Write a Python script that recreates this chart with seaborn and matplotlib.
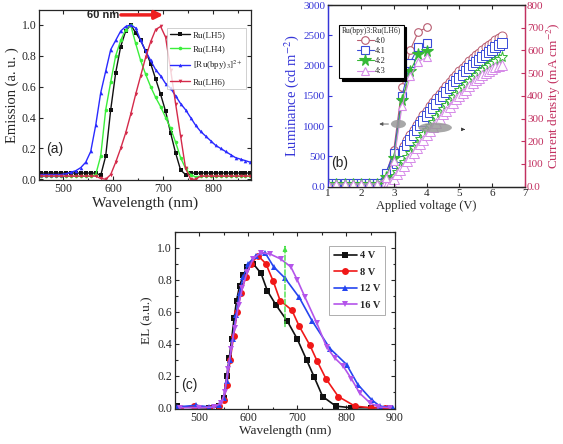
import matplotlib
matplotlib.use("Agg")
import matplotlib.pyplot as plt
import seaborn as sns
from matplotlib.patches import Ellipse
from matplotlib.ticker import MultipleLocator

# ---------------- data : panel (a) PL emission ----------------
wl_a = [455, 465, 475, 485, 495, 505, 515, 525, 535, 545, 555, 565, 575, 585, 595,
        605, 615, 625, 635, 645, 655, 665, 675, 685, 695, 705, 715, 725, 735, 745,
        755, 765, 775, 785, 795, 805, 815, 825, 835, 845, 855, 865, 875]
em_lh5 = [0.04] * 12 + [0.025, 0.15, 0.45, 0.69, 0.86, 0.96, 1.0, 0.95, 0.9, 0.83, 0.75,
                        0.65, 0.55, 0.44, 0.3, 0.17, 0.06, 0.03] + [0.04] * 13
em_lh4 = [0.02] * 11 + [0.03, 0.15, 0.45, 0.63, 0.8, 0.9, 0.97, 1.0, 0.88, 0.77, 0.68,
                        0.6, 0.53, 0.47, 0.4, 0.33, 0.24, 0.14, 0.07, 0.03, 0.015] + [0.02] * 11
em_bpy = [0.03] * 5 + [0.035, 0.045, 0.055, 0.075, 0.11, 0.18, 0.35, 0.56, 0.7, 0.84, 0.9,
                       0.96, 0.99, 1.0, 0.98, 0.9, 0.83, 0.77, 0.71, 0.67, 0.62, 0.59, 0.54,
                       0.49, 0.45, 0.4, 0.35, 0.31, 0.28, 0.25, 0.22, 0.2, 0.18, 0.16, 0.14,
                       0.13, 0.12, 0.11]
em_lh6 = [0.02] * 12 + [0.005, 0.0, 0.03, 0.11, 0.2, 0.3, 0.42, 0.55, 0.67, 0.79, 0.89,
                        0.97, 0.99, 0.92, 0.71, 0.49, 0.28, 0.07, 0.0, 0.0] + [0.02] * 11
labels_a = ["Ru(LH5)", "Ru(LH4)", r"[Ru(bpy)$_3$]$^{2+}$", "Ru(LH6)"]

# ---------------- data : panel (b) luminance / current density ----------------
volt_lum = [1.0, 1.25, 1.5, 1.75, 2.0, 2.25, 2.5, 2.75, 3.0, 3.25, 3.5, 3.75, 4.0]
lum_40 = [60, 60, 60, 60, 60, 60, 60, 190, 610, 1650, 2260, 2560, 2630]
lum_41 = [55, 55, 55, 55, 55, 55, 55, 220, 550, 1500, 2050, 2310, 2380]
lum_42 = [50, 50, 50, 50, 50, 50, 50, 160, 470, 1430, 1910, 2185, 2245]
lum_43 = [45, 45, 45, 45, 45, 45, 45, 140, 420, 1330, 1830, 2065, 2135]

volt_j = [1.0, 2.5, 2.6, 2.7, 2.8, 2.9, 3.0, 3.1, 3.2, 3.3, 3.4, 3.5, 3.6, 3.7, 3.8, 3.9,
          4.0, 4.1, 4.2, 4.3, 4.4, 4.5, 4.6, 4.7, 4.8, 4.9, 5.0, 5.1, 5.2, 5.3, 5.4, 5.5,
          5.6, 5.7, 5.8, 5.9, 6.0, 6.1, 6.2, 6.3]
j_40 = [20, 20, 5, 12, 30, 60, 95, 122, 150, 178, 204, 228, 250, 272, 293, 314, 334, 354,
        373, 392, 410, 428, 445, 462, 478, 494, 509, 524, 538, 552, 565, 578, 590, 602,
        613, 624, 634, 644, 654, 663]
j_41 = [20, 20, 4, 10, 25, 50, 80, 106, 132, 157, 182, 206, 228, 249, 270, 290, 310, 329,
        348, 366, 384, 401, 418, 434, 450, 465, 480, 494, 508, 521, 534, 547, 559, 571,
        582, 593, 603, 613, 622, 631]
j_42 = [20, 20, 2, 3, 10, 25, 45, 66, 87, 108, 129, 150, 170, 190, 210, 230, 249, 268,
        287, 306, 324, 342, 360, 377, 393, 409, 424, 439, 453, 467, 480, 493, 505, 516,
        527, 537, 546, 555, 563, 570]
j_43 = [20, 20, 2, 2, 8, 20, 35, 54, 73, 92, 111, 130, 150, 169, 188, 207, 226, 245,
        264, 282, 300, 318, 335, 352, 368, 384, 399, 414, 428, 442, 455, 468, 480, 491,
        502, 511, 519, 526, 531, 536]
labels_b = ["4:0", "4:1", "4:2", "4:3"]

# ---------------- data : panel (c) EL spectra ----------------
wl_4v = [455, 490, 520, 540, 550, 556, 561, 566, 571, 576, 582, 590, 598, 610, 626, 639,
         657, 680, 700, 719, 735, 752, 779, 810, 850, 890]
el_4v = [0.01, 0.0, 0.0, 0.01, 0.06, 0.2, 0.31, 0.43, 0.56, 0.67, 0.76, 0.83, 0.88, 0.9,
         0.84, 0.73, 0.64, 0.54, 0.43, 0.30, 0.19, 0.07, 0.01, 0.0, 0.0, 0.0]
wl_8v = [460, 488, 520, 540, 550, 556, 563, 570, 577, 585, 595, 605, 620, 636, 651, 665,
         689, 704, 726, 741, 759, 784, 818, 850, 880]
el_8v = [0.0, 0.01, 0.0, 0.01, 0.05, 0.145, 0.3, 0.45, 0.6, 0.72, 0.82, 0.9, 0.95, 0.9,
         0.79, 0.67, 0.61, 0.51, 0.39, 0.29, 0.18, 0.07, 0.01, 0.0, 0.0]
wl_12v = [455, 493, 520, 540, 550, 556, 562, 568, 575, 582, 590, 600, 615, 634, 652, 675,
          704, 731, 767, 801, 824, 852, 869, 895]
el_12v = [0.005, 0.015, 0.005, 0.015, 0.06, 0.17, 0.3, 0.43, 0.58, 0.72, 0.82, 0.9, 0.95,
          0.97, 0.88, 0.81, 0.69, 0.54, 0.37, 0.27, 0.145, 0.05, 0.01, 0.0]
wl_16v = [460, 500, 530, 545, 552, 558, 565, 572, 580, 588, 598, 610, 625, 645, 666, 687,
          700, 716, 740, 760, 777, 794, 811, 828, 849, 866, 890]
el_16v = [0.0, 0.0, 0.005, 0.03, 0.1, 0.24, 0.37, 0.5, 0.64, 0.75, 0.85, 0.93, 0.97, 0.96,
          0.93, 0.88, 0.80, 0.69, 0.53, 0.38, 0.31, 0.26, 0.18, 0.09, 0.03, 0.005, 0.0]
labels_c = ["4 V", "8 V", "12 V", "16 V"]

# ---------------- style ----------------
sns.set_style("ticks")
plt.rcParams["font.family"] = ["Liberation Serif", "DejaVu Serif"]
plt.rcParams["mathtext.fontset"] = "stix"
SANS = ["Liberation Sans", "DejaVu Sans"]
BLUE_AX = "#3535d8"
RED_AX = "#c23060"

fig = plt.figure(figsize=(5.63, 4.44), dpi=100)


def style(ax, top=True, right=True, size=8.5):
    ax.tick_params(which="both", direction="in", top=top, right=right,
                   labelsize=size, width=0.8, pad=2)
    ax.tick_params(which="major", length=3)
    ax.tick_params(which="minor", length=1.8)
    for s in ax.spines.values():
        s.set_linewidth(0.9)


# ================= panel (a) =================
axa = fig.add_axes([0.0698, 0.5946, 0.376, 0.384])
cols_a = ["#111111", "#3bef3b", "#2a2aff", "#d42a4a"]
marks_a = ["s", "o", "^", "v"]
for yv, lab, c, m in zip([em_lh5, em_lh4, em_bpy, em_lh6], labels_a, cols_a, marks_a):
    sns.lineplot(x=wl_a, y=yv, ax=axa, color=c, marker=m, markersize=2.6,
                 markeredgewidth=0, lw=1.0, label=lab)
axa.set_xlim(452, 876)
axa.set_ylim(-0.005, 1.1)
axa.set_xticks([500, 600, 700, 800])
axa.set_yticks([0.0, 0.2, 0.4, 0.6, 0.8, 1.0])
axa.set_yticklabels(["0.0", "0.2", "0.4", "0.6", "0.8", "1.0"])
axa.xaxis.set_minor_locator(MultipleLocator(50))
style(axa)
axa.set_xlabel("Wavelength (nm)", fontsize=11, labelpad=1)
axa.set_ylabel("Emission (a. u. )", fontsize=10.5, labelpad=2)
leg = axa.legend(loc="upper right", bbox_to_anchor=(1.0, 0.92), fontsize=6.5,
                 frameon=True, fancybox=False, edgecolor="#bbbbbb", handlelength=2.2,
                 borderpad=0.4, labelspacing=0.6, handletextpad=0.3)
leg.get_frame().set_linewidth(0.6)
axa.text(579, 1.065, "60 nm", family=SANS, fontsize=8, fontweight="bold",
         ha="center", va="center")
axa.annotate("", xy=(706, 1.065), xytext=(610, 1.065),
             arrowprops=dict(arrowstyle="-|>", color="#ee2020", lw=2.5, mutation_scale=12))
axa.text(483, 0.195, "(a)", family=SANS, fontsize=10, ha="center", va="center")

# ================= panel (b) =================
axb = fig.add_axes([0.5831, 0.5795, 0.3494, 0.4092])
axj = axb.twinx()
cols_b = ["#b85c70", "#3a4bd8", "#36b836", "#d68ae8"]
marks_b = ["o", "s", "*", "^"]
for yv, c, m in zip([j_40, j_41, j_42, j_43], cols_b, marks_b):
    sns.lineplot(x=volt_j, y=yv, ax=axj, color=c, marker=m,
                 markersize=8 if m == "*" else 6.5,
                 markerfacecolor="white", markeredgecolor=c, markeredgewidth=0.7,
                 lw=0.8, markevery=slice(2, None), legend=False)
for yv, lab, c, m in zip([lum_40, lum_41, lum_42, lum_43], labels_b, cols_b, marks_b):
    filled = (m == "*")
    sns.lineplot(x=volt_lum, y=yv, ax=axb, color=c, marker=m,
                 markersize=8.5 if filled else 5.5,
                 markerfacecolor=c if filled else "white", markeredgecolor=c,
                 markeredgewidth=0.8, lw=0.8, label=lab)
axb.set_zorder(axj.get_zorder() + 1)
axb.patch.set_visible(False)
axb.set_xlim(1, 7)
axb.set_ylim(0, 3000)
axj.set_ylim(0, 800)
axb.set_xticks([1, 2, 3, 4, 5, 6, 7])
axb.set_yticks([0, 500, 1000, 1500, 2000, 2500, 3000])
axb.set_yticklabels(["0.0", "500", "1000", "1500", "2000", "2500", "3000"])
axj.set_yticks([0, 100, 200, 300, 400, 500, 600, 700, 800])
axj.set_yticklabels(["0.0", "100", "200", "300", "400", "500", "600", "700", "800"])
style(axb, top=True, right=False, size=8)
style(axj, top=False, right=True, size=8)
axj.tick_params(left=False, pad=1.5)
axb.tick_params(axis="y", colors=BLUE_AX)
axj.tick_params(axis="y", colors=RED_AX)
for a in (axb, axj):
    a.spines["left"].set_color(BLUE_AX)
    a.spines["right"].set_color(RED_AX)
axb.set_xlabel("Applied voltage (V)", fontsize=9, labelpad=1)
axb.set_ylabel("Luminance (cd m$^{-2}$)", fontsize=10.5, color=BLUE_AX, labelpad=2)
axj.set_ylabel("Current density (mA cm$^{-2}$)", fontsize=9.5, color=RED_AX, labelpad=0.5)
legb = axb.legend(loc="upper left", bbox_to_anchor=(0.035, 0.915), title="Ru(bpy)3:Ru(LH6)",
                  title_fontsize=5.5, fontsize=6, frameon=True, fancybox=False,
                  edgecolor="black", handlelength=2.0, borderpad=0.3, labelspacing=0.25,
                  handletextpad=0.2, shadow={"color": "black", "alpha": 1.0})
legb.get_frame().set_linewidth(0.8)
axb.add_patch(Ellipse((3.14, 1035), 0.46, 138, facecolor="#999999", alpha=0.85,
                      edgecolor="none", zorder=5))
axb.add_patch(Ellipse((4.26, 975), 1.02, 165, facecolor="#999999", alpha=0.85,
                      edgecolor="none", zorder=5))
axb.annotate("", xy=(2.47, 1035), xytext=(2.92, 1035),
             arrowprops=dict(arrowstyle="-|>", color="#555555", lw=0.6, mutation_scale=5))
axb.annotate("", xy=(5.17, 947), xytext=(5.05, 947),
             arrowprops=dict(arrowstyle="-|>", color="#333333", lw=0.5, mutation_scale=5))
axb.text(1.36, 385, "(b)", family=SANS, fontsize=10, ha="center", va="center")

# ================= panel (c) =================
axc = fig.add_axes([0.3108, 0.0788, 0.3908, 0.3993])
cols_c = ["#111111", "#f01818", "#2545f0", "#b454ea"]
marks_c = ["s", "o", "^", "v"]
for xv, yv, lab, c, m in zip([wl_4v, wl_8v, wl_12v, wl_16v], [el_4v, el_8v, el_12v, el_16v],
                             labels_c, cols_c, marks_c):
    sns.lineplot(x=xv, y=yv, ax=axc, color=c, marker=m, markersize=5,
                 markeredgewidth=0, lw=1.2, label=lab)
axc.set_xlim(450, 900)
axc.set_ylim(-0.008, 1.1)
axc.set_xticks([500, 600, 700, 800, 900])
axc.set_yticks([0.0, 0.2, 0.4, 0.6, 0.8, 1.0])
axc.set_yticklabels(["0.0", "0.2", "0.4", "0.6", "0.8", "1.0"])
axc.xaxis.set_minor_locator(MultipleLocator(50))
axc.yaxis.set_minor_locator(MultipleLocator(0.1))
style(axc)
axc.set_xlabel("Wavelength (nm)", fontsize=9.5, labelpad=1)
axc.set_ylabel("EL (a.u.)", fontsize=9.5, labelpad=3)
legc = axc.legend(loc="upper right", bbox_to_anchor=(0.98, 0.95),
                  prop={"weight": "bold", "size": 7.5}, frameon=True, fancybox=False,
                  edgecolor="#999999", handlelength=2.2, borderpad=0.5, labelspacing=0.7,
                  handletextpad=0.3)
legc.get_frame().set_linewidth(0.7)
axc.annotate("", xy=(675, 1.0), xytext=(675, 0.49),
             arrowprops=dict(arrowstyle="-", color="#45e045", lw=1.0, linestyle="--"))
axc.annotate("", xy=(675, 1.025), xytext=(675, 0.99),
             arrowprops=dict(arrowstyle="-|>", color="#45e045", lw=1.0, mutation_scale=6))
axc.text(480, 0.145, "(c)", family=SANS, fontsize=10, ha="center", va="center")

fig.savefig("out.png", dpi=100)
